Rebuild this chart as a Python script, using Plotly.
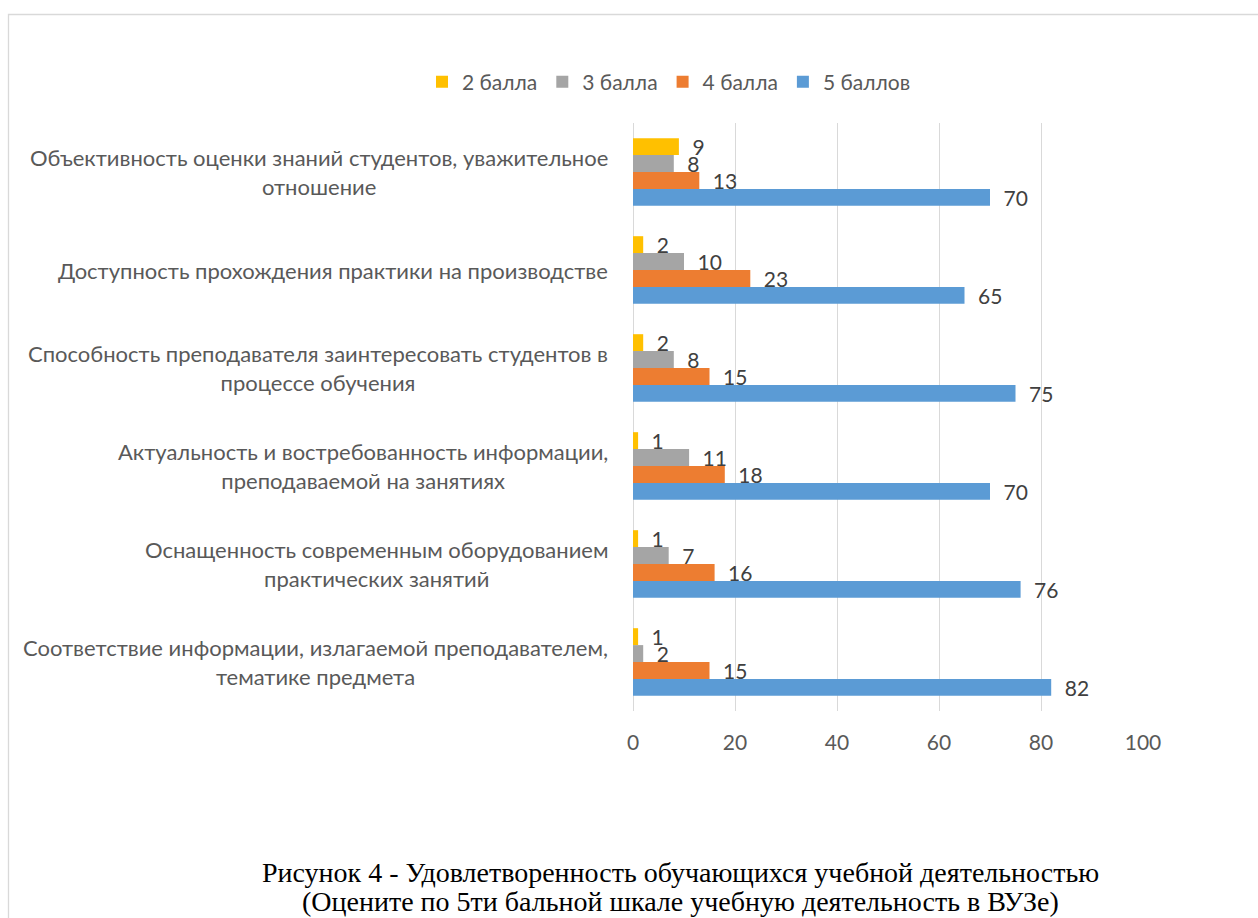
import plotly.graph_objects as go

categories = [
    "Объективность оценки знаний студентов, уважительное отношение",
    "Доступность прохождения практики на производстве",
    "Способность преподавателя заинтересовать студентов в процессе обучения",
    "Актуальность и востребованность информации, преподаваемой на занятиях",
    "Оснащенность современным оборудованием практических занятий",
    "Соответствие информации, излагаемой преподавателем, тематике предмета",
]
tick_labels = [
    "Объективность оценки знаний студентов, уважительное<br>отношение",
    "Доступность прохождения практики на производстве",
    "Способность преподавателя заинтересовать студентов в<br>процессе обучения",
    "Актуальность и востребованность информации,<br>преподаваемой на занятиях",
    "Оснащенность современным оборудованием<br>практических занятий",
    "Соответствие информации, излагаемой преподавателем,<br>тематике предмета",
]
series_names = ["2 балла", "3 балла", "4 балла", "5 баллов"]
vals_2 = [9, 2, 2, 1, 1, 1]
vals_3 = [8, 10, 8, 11, 7, 2]
vals_4 = [13, 23, 15, 18, 16, 15]
vals_5 = [70, 65, 75, 70, 76, 82]
colors = ["#FFC000", "#A5A5A5", "#ED7D31", "#5B9BD5"]
x_ticks = [0, 20, 40, 60, 80, 100]
caption_lines = [
    "Рисунок 4 - Удовлетворенность обучающихся учебной деятельностью",
    "(Оцените по 5ти бальной шкале учебную деятельность в ВУЗе)",
]

FONT = "Lato, Roboto, sans-serif"
W, H = 1258, 918
ML, MR, MT, MB = 633, 115, 123, 207
PW = W - ML - MR
PH = H - MT - MB

fig = go.Figure()
for name, vals, col in zip(series_names, [vals_2, vals_3, vals_4, vals_5], colors):
    fig.add_trace(go.Bar(
        name=name, y=categories, x=vals, orientation="h",
        marker=dict(color=col, line=dict(width=0)),
        text=[f"\u2002{v}" for v in vals],
        textposition="outside", constraintext="none", cliponaxis=False,
        textfont=dict(family=FONT, size=21, color="#404040"),
        hoverinfo="x+name",
    ))

annotations = []
for cat, lab in zip(categories, tick_labels):
    annotations.append(dict(
        x=0, xref="paper", y=cat, yref="y", xanchor="right", yanchor="middle",
        xshift=-23, align="center", showarrow=False, text=lab,
        font=dict(family=FONT, size=22, color="#595959"),
    ))
for line, py in zip(caption_lines, [872, 901]):
    annotations.append(dict(
        x=(680 - ML) / PW, xref="paper", y=1 - (py - MT) / PH, yref="paper",
        xanchor="center", yanchor="middle", align="center", showarrow=False,
        text=line, font=dict(family="Liberation Serif, Times New Roman, serif", size=28, color="#000000"),
    ))

fig.update_layout(
    width=W, height=H, autosize=False,
    margin=dict(l=ML, r=MR, t=MT, b=MB, pad=0),
    paper_bgcolor="white", plot_bgcolor="white",
    barmode="group", bargap=0.31, bargroupgap=0,
    showlegend=True,
    legend=dict(orientation="h", x=(669 - ML) / PW, xanchor="center",
                y=1 + (MT - 82) / PH, yanchor="middle",
                font=dict(family=FONT, size=21, color="#595959"),
                traceorder="normal", itemclick=False, itemdoubleclick=False),
    xaxis=dict(range=[0, 100], tickvals=x_ticks, showgrid=True, gridcolor="#D9D9D9",
               gridwidth=1, zeroline=True, zerolinecolor="#D9D9D9", zerolinewidth=1,
               showline=False, ticks="", ticklabelstandoff=17,
               tickfont=dict(family=FONT, size=21, color="#595959"), fixedrange=True),
    yaxis=dict(autorange="reversed", showticklabels=False, showgrid=False,
               zeroline=False, showline=False, ticks="", fixedrange=True),
    annotations=annotations,
    shapes=[dict(type="rect", xref="paper", yref="paper",
                 x0=(8.5 - ML) / PW, x1=(W + 20 - ML) / PW,
                 y0=-(H + 20 - MT - PH) / PH, y1=1 + (MT - 14.5) / PH,
                 line=dict(color="#D9D9D9", width=1.3), fillcolor="rgba(0,0,0,0)",
                 layer="below")],
)

fig.write_html(
    "out.html",
    config={"displayModeBar": False},
    post_script="document.body.style.margin='0px';document.body.style.overflow='hidden';",
)
